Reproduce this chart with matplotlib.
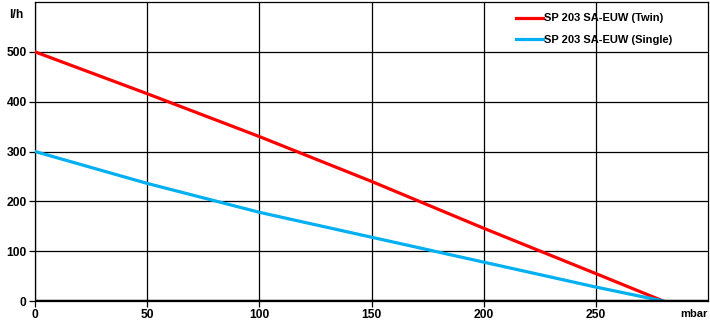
import matplotlib
matplotlib.use('Agg')
import matplotlib.pyplot as plt

plt.rcParams['font.family'] = ['Liberation Sans', 'DejaVu Sans']
plt.rcParams['font.weight'] = 'bold'

# curve data (mbar -> l/h)
pressure = [0, 50, 100, 150, 200, 250, 280]
flow_twin = [500, 416, 330, 240, 146, 55, 0]
flow_single = [300, 236, 178, 128, 78, 28, 0]
x_ticks = [0, 50, 100, 150, 200, 250]
y_ticks = [0, 100, 200, 300, 400, 500]
labels = ['SP 203 SA-EUW (Twin)', 'SP 203 SA-EUW (Single)']

fig = plt.figure(figsize=(7.1, 3.27), dpi=100)
ax = fig.add_axes([35 / 710, 26 / 327, 673 / 710, 299 / 327])

ax.plot(pressure, flow_twin, color='#ff0000', lw=2.3, label=labels[0], zorder=3)
ax.plot(pressure, flow_single, color='#00b0f0', lw=2.3, label=labels[1], zorder=3)

ax.set_xlim(0, 300)
ax.set_ylim(0, 600)
ax.set_xticks(x_ticks)
ax.set_yticks(y_ticks)
ax.grid(True, color='black', lw=0.9)
ax.axhline(0, color='black', lw=2.5, zorder=4)
for s in ax.spines.values():
    s.set_linewidth(0.9)
ax.tick_params(labelsize=8.7, length=4, width=0.9, pad=2)
for t in ax.get_xticklabels() + ax.get_yticklabels():
    t.set_fontweight('bold')

fig.text(9 / 710, 1 - 15 / 327, 'l/h', fontsize=8.7, fontweight='bold', va='center')
fig.text(708 / 710, 1 - 314 / 327, 'mbar', fontsize=8, fontweight='bold',
         va='center', ha='right')

leg = ax.legend(loc='upper right', bbox_to_anchor=(0.962, 0.995), frameon=False,
                prop={'size': 8, 'weight': 'bold'}, handlelength=2.4,
                handletextpad=0.1, labelspacing=1.0)

fig.savefig('out.png', dpi=100)
